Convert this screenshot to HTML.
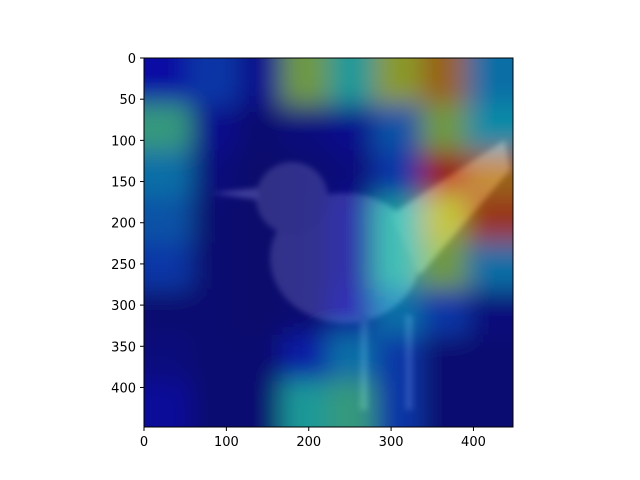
<!DOCTYPE html>
<html><head><meta charset="utf-8"><style>
html,body{margin:0;padding:0;background:#fff;}
svg{display:block;font-family:"DejaVu Sans","Liberation Sans",sans-serif;}
</style></head><body>
<svg id="chart" width="640" height="480" viewBox="0 0 640 480">
<defs>
<clipPath id="clip"><rect x="144" y="58" width="369" height="369"/></clipPath>
<filter id="blur" x="-20%" y="-20%" width="140%" height="140%"><feGaussianBlur stdDeviation="12"/></filter>
<filter id="blur2"><feGaussianBlur stdDeviation="3"/></filter>
</defs>
<g clip-path="url(#clip)">
<rect x="144" y="58" width="369" height="369" fill="#1a1c3a"/>
<g filter="url(#blur2)">
<ellipse cx="345" cy="258" rx="75" ry="65" fill="#70707c"/>
<circle cx="292" cy="198" r="36" fill="#6c6c78"/>
<polygon points="212,193 258,188 258,200" fill="#8a8a9a"/>
<polygon points="390,215 505,140 510,170 420,275" fill="#80808a"/>
<rect x="360" y="315" width="8" height="95" fill="#5a5a68"/>
<rect x="405" y="315" width="8" height="95" fill="#5a5a68"/>
</g>
<g id="heat" filter="url(#blur)" opacity="0.55"></g>
</g>
<rect x="144" y="58" width="369" height="369" fill="none" stroke="#000" stroke-width="1"/>
<g id="xaxis"></g>
<g id="yaxis"></g>
</svg>
<script>
const gridRows = [
 [0.12,0.20,0.08,0.55,0.40,0.60,0.72,0.30],
 [0.45,0.08,0.03,0.05,0.08,0.25,0.55,0.35],
 [0.30,0.05,0.02,0.03,0.05,0.20,0.85,0.72],
 [0.25,0.03,0.02,0.03,0.08,0.40,0.62,0.80],
 [0.20,0.03,0.02,0.03,0.08,0.40,0.55,0.30],
 [0.03,0.03,0.02,0.03,0.10,0.30,0.20,0.05],
 [0.05,0.03,0.03,0.15,0.30,0.20,0.03,0.03],
 [0.10,0.03,0.03,0.40,0.45,0.20,0.03,0.03]
];
const xTicks = [0,100,200,300,400];
const yTicks = [0,50,100,150,200,250,300,350,400];
const imgSize = 448;
const NS = "http://www.w3.org/2000/svg";
const X0=144, Y0=58, W=369;
function sx(v){return X0 + v/imgSize*W;}
function sy(v){return Y0 + v/imgSize*W;}
function jet(t){
  const c=x=>Math.max(0,Math.min(1,x));
  const r=c(1.5-Math.abs(4*t-3)), g=c(1.5-Math.abs(4*t-2)), b=c(1.5-Math.abs(4*t-1));
  return `rgb(${Math.round(r*255)},${Math.round(g*255)},${Math.round(b*255)})`;
}
const heat=document.getElementById('heat');
const n=gridRows.length, cell=imgSize/n;
for(let i=-1;i<=n;i++){for(let j=-1;j<=n;j++){
  const ii=Math.max(0,Math.min(n-1,i)), jj=Math.max(0,Math.min(n-1,j));
  const v=gridRows[ii][jj];
  const r=document.createElementNS(NS,'rect');
  r.setAttribute('x',sx(j*cell)); r.setAttribute('y',sy(i*cell));
  r.setAttribute('width',sx(cell)-sx(0)+0.5); r.setAttribute('height',sy(cell)-sy(0)+0.5);
  r.setAttribute('fill',jet(v));
  
  
  heat.appendChild(r);
}}
const xa=document.getElementById('xaxis');
xTicks.forEach(v=>{
  const x=sx(v);
  const l=document.createElementNS(NS,'line');
  l.setAttribute('x1',x);l.setAttribute('x2',x);l.setAttribute('y1',427);l.setAttribute('y2',431);l.setAttribute('stroke','#000');
  
  
  xa.appendChild(l);
  const t=document.createElementNS(NS,'text');
  t.setAttribute('x',x);t.setAttribute('y',446);t.setAttribute('text-anchor','middle');t.setAttribute('font-size','13');
  t.textContent=v;
  
  
  xa.appendChild(t);
});
const ya=document.getElementById('yaxis');
yTicks.forEach(v=>{
  const y=sy(v);
  const l=document.createElementNS(NS,'line');
  l.setAttribute('x1',140);l.setAttribute('x2',144);l.setAttribute('y1',y);l.setAttribute('y2',y);l.setAttribute('stroke','#000');
  
  
  ya.appendChild(l);
  const t=document.createElementNS(NS,'text');
  t.setAttribute('x',136);t.setAttribute('y',y+5);t.setAttribute('text-anchor','end');t.setAttribute('font-size','13');
  t.textContent=v;
  
  
  ya.appendChild(t);
});
</script>
</body></html>
